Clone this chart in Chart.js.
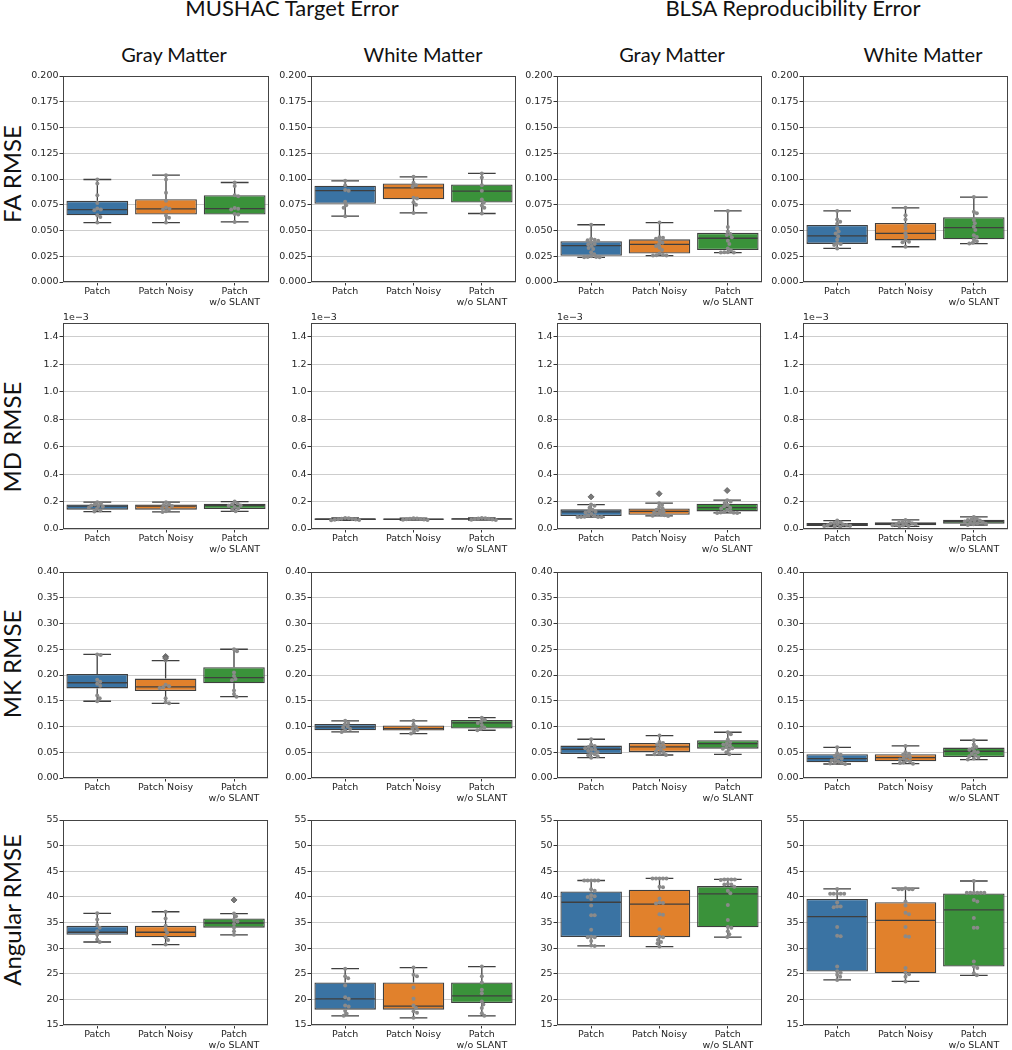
<!DOCTYPE html>
<html>
<head>
<meta charset="utf-8">
<script src="https://cdn.jsdelivr.net/npm/chart.js@4/dist/chart.umd.min.js"></script>
<style>
  body { margin: 0; background: #fff; }
  #page { position: relative; width: 1012px; height: 1050px; overflow: hidden; font-family: Lato, "Open Sans", sans-serif; color: #111; }
  .panel { position: absolute; }
  .txt { position: absolute; white-space: nowrap; line-height: 1; transform: translateX(-50%); }
  .rowlab { position: absolute; white-space: nowrap; line-height: 1; font-size: 24px; transform: translate(-50%, -50%) rotate(-90deg); }
</style>
</head>
<body>
<div id="page"></div>
<script>
// groups on the x axis of every panel
const GROUPS = ['Patch', 'Patch Noisy', ['Patch', 'w/o SLANT']];
const COLORS = ['#3a73a3', '#e1812c', '#3a923a'];

// y tick values per row
const FA_TICKS = [0, 0.025, 0.05, 0.075, 0.1, 0.125, 0.15, 0.175, 0.2];
const MD_TICKS = [0, 0.2, 0.4, 0.6, 0.8, 1.0, 1.2, 1.4];   // x1e-3
const MK_TICKS = [0, 0.05, 0.1, 0.15, 0.2, 0.25, 0.3, 0.35, 0.4];
const ANG_TICKS = [15, 20, 25, 30, 35, 40, 45, 50, 55];

// box stats per group: [whisker low, q1, median, q3, whisker high]
// FA RMSE
const FA_MUSHAC_GM_BOX = [[0.0577, 0.0648, 0.0703, 0.0788, 0.0995], [0.0577, 0.0655, 0.0709, 0.0804, 0.1037], [0.0583, 0.0655, 0.0712, 0.0843, 0.0966]];
const FA_MUSHAC_GM_PTS = [[0.0995, 0.0957, 0.0843, 0.0768, 0.0714, 0.0704, 0.0697, 0.0649, 0.0632, 0.0577], [0.1037, 0.0995, 0.0866, 0.0788, 0.0722, 0.0712, 0.0705, 0.0645, 0.0625, 0.0577], [0.0966, 0.0931, 0.0843, 0.0833, 0.0718, 0.0712, 0.0705, 0.066, 0.0655, 0.0583]];
const FA_MUSHAC_WM_BOX = [[0.0639, 0.0759, 0.0888, 0.0934, 0.0982], [0.0671, 0.0804, 0.0914, 0.0957, 0.1021], [0.0665, 0.0772, 0.0882, 0.0947, 0.1054]];
const FA_MUSHAC_WM_PTS = [[0.0982, 0.094, 0.0893, 0.0887, 0.0778, 0.0746, 0.072, 0.0639], [0.1021, 0.0963, 0.094, 0.0925, 0.0817, 0.081, 0.0775, 0.075, 0.0671], [0.1054, 0.1015, 0.094, 0.0885, 0.0801, 0.0772, 0.0743, 0.072, 0.0665]];
const FA_BLSA_GM_BOX = [[0.024, 0.0255, 0.0354, 0.0396, 0.0556], [0.0257, 0.0276, 0.0365, 0.0414, 0.0577], [0.0286, 0.031, 0.0425, 0.0477, 0.069]];
const FA_BLSA_GM_PTS = [[0.0556, 0.042, 0.041, 0.0405, 0.04, 0.0385, 0.037, 0.0365, 0.035, 0.033, 0.032, 0.029, 0.027, 0.025, 0.0242, 0.0242, 0.024, 0.024], [0.0577, 0.0435, 0.043, 0.042, 0.04, 0.038, 0.0366, 0.035, 0.0333, 0.031, 0.0276, 0.026, 0.0257, 0.0257, 0.0262], [0.069, 0.0534, 0.049, 0.0466, 0.0456, 0.0435, 0.04, 0.037, 0.0325, 0.0308, 0.0286, 0.0286, 0.0288, 0.0288]];
const FA_BLSA_WM_BOX = [[0.0326, 0.037, 0.0447, 0.0553, 0.069], [0.0342, 0.0404, 0.0473, 0.0574, 0.072], [0.0373, 0.0414, 0.0527, 0.0628, 0.0825]];
const FA_BLSA_WM_PTS = [[0.069, 0.0606, 0.0584, 0.0565, 0.052, 0.049, 0.047, 0.0445, 0.041, 0.0376, 0.037, 0.036, 0.0326], [0.072, 0.0648, 0.0606, 0.0554, 0.052, 0.0473, 0.044, 0.0405, 0.039, 0.0387, 0.0342], [0.0825, 0.0683, 0.0667, 0.0602, 0.057, 0.0536, 0.0505, 0.0453, 0.0436, 0.0412, 0.0396, 0.038, 0.0373]];

// MD RMSE (x1e-3)
const MD_MUSHAC_GM_BOX = [[0.127, 0.141, 0.166, 0.178, 0.195], [0.124, 0.141, 0.166, 0.178, 0.195], [0.129, 0.146, 0.171, 0.183, 0.2]];
const MD_MUSHAC_GM_PTS = [[0.195, 0.185, 0.178, 0.172, 0.168, 0.163, 0.155, 0.145, 0.135, 0.127], [0.195, 0.18, 0.175, 0.168, 0.16, 0.152, 0.142, 0.13, 0.124], [0.2, 0.186, 0.18, 0.172, 0.17, 0.16, 0.15, 0.14, 0.129]];
const MD_MUSHAC_WM_BOX = [[0.063, 0.066, 0.071, 0.078, 0.08], [0.065, 0.067, 0.071, 0.077, 0.079], [0.065, 0.068, 0.074, 0.079, 0.081]];
const MD_MUSHAC_WM_PTS = [[0.08, 0.078, 0.075, 0.073, 0.071, 0.07, 0.068, 0.066, 0.063], [0.079, 0.077, 0.074, 0.072, 0.071, 0.069, 0.067, 0.065], [0.081, 0.079, 0.076, 0.074, 0.072, 0.07, 0.068, 0.065]];
const MD_BLSA_GM_BOX = [[0.087, 0.095, 0.124, 0.143, 0.178], [0.095, 0.103, 0.128, 0.15, 0.188], [0.117, 0.128, 0.156, 0.184, 0.21]];
const MD_BLSA_GM_PTS = [[0.178, 0.17, 0.155, 0.14, 0.13, 0.125, 0.12, 0.11, 0.1, 0.095, 0.09, 0.088, 0.087, 0.087, 0.087], [0.188, 0.175, 0.16, 0.15, 0.14, 0.13, 0.125, 0.12, 0.11, 0.105, 0.1, 0.097, 0.095], [0.21, 0.2, 0.19, 0.175, 0.165, 0.155, 0.15, 0.14, 0.13, 0.125, 0.12, 0.118, 0.117, 0.117]];
const MD_BLSA_GM_OUT = [[0.234], [0.257], [0.28]];
const MD_BLSA_WM_BOX = [[0.017, 0.022, 0.032, 0.044, 0.061], [0.019, 0.027, 0.039, 0.049, 0.066], [0.029, 0.039, 0.056, 0.068, 0.088]];
const MD_BLSA_WM_PTS = [[0.061, 0.05, 0.045, 0.04, 0.036, 0.033, 0.03, 0.027, 0.024, 0.022, 0.02, 0.017], [0.066, 0.055, 0.05, 0.046, 0.042, 0.039, 0.035, 0.031, 0.028, 0.025, 0.022, 0.019], [0.088, 0.075, 0.07, 0.066, 0.062, 0.058, 0.054, 0.05, 0.046, 0.042, 0.038, 0.034, 0.029]];

// MK RMSE
const MK_MUSHAC_GM_BOX = [[0.149, 0.174, 0.185, 0.202, 0.24], [0.145, 0.169, 0.177, 0.193, 0.228], [0.158, 0.184, 0.195, 0.215, 0.25]];
const MK_MUSHAC_GM_PTS = [[0.24, 0.239, 0.191, 0.187, 0.183, 0.179, 0.16, 0.155, 0.149], [0.228, 0.181, 0.178, 0.176, 0.175, 0.155, 0.147, 0.145], [0.25, 0.246, 0.205, 0.198, 0.192, 0.19, 0.17, 0.163, 0.158]];
const MK_MUSHAC_GM_OUT = [[], [0.236, 0.233], []];
const MK_MUSHAC_WM_BOX = [[0.0895, 0.0927, 0.0992, 0.105, 0.1109], [0.0862, 0.092, 0.0959, 0.1018, 0.1109], [0.0927, 0.0959, 0.107, 0.1128, 0.1173]];
const MK_MUSHAC_WM_PTS = [[0.111, 0.107, 0.104, 0.1, 0.098, 0.095, 0.092, 0.0895], [0.111, 0.104, 0.099, 0.096, 0.093, 0.09, 0.0862], [0.117, 0.113, 0.11, 0.107, 0.103, 0.098, 0.095, 0.0927]];
const MK_BLSA_GM_BOX = [[0.0395, 0.0467, 0.0558, 0.0629, 0.0752], [0.0447, 0.0506, 0.0603, 0.0681, 0.0823], [0.046, 0.057, 0.0668, 0.0733, 0.0888]];
const MK_BLSA_GM_PTS = [[0.0752, 0.065, 0.062, 0.06, 0.058, 0.056, 0.055, 0.053, 0.05, 0.048, 0.046, 0.044, 0.042, 0.0395], [0.0823, 0.07, 0.068, 0.065, 0.062, 0.06, 0.058, 0.055, 0.052, 0.05, 0.048, 0.046, 0.0447], [0.0888, 0.085, 0.075, 0.07, 0.067, 0.065, 0.063, 0.06, 0.058, 0.057, 0.055, 0.05, 0.046]];
const MK_BLSA_WM_BOX = [[0.0272, 0.0305, 0.0376, 0.046, 0.0596], [0.0279, 0.0324, 0.0395, 0.046, 0.0622], [0.0357, 0.0408, 0.0519, 0.059, 0.0733]];
const MK_BLSA_WM_PTS = [[0.0596, 0.048, 0.045, 0.043, 0.04, 0.038, 0.036, 0.034, 0.032, 0.03, 0.029, 0.028, 0.0272], [0.0622, 0.05, 0.047, 0.045, 0.042, 0.04, 0.038, 0.036, 0.034, 0.032, 0.03, 0.029, 0.0279], [0.0733, 0.065, 0.06, 0.058, 0.055, 0.052, 0.05, 0.047, 0.044, 0.042, 0.04, 0.038, 0.0357]];

// Angular RMSE
const ANG_MUSHAC_GM_BOX = [[31.2, 32.6, 33.1, 34.35, 36.8], [30.7, 32.1, 33.1, 34.35, 37.1], [32.6, 34.0, 34.9, 35.8, 36.75]];
const ANG_MUSHAC_GM_PTS = [[36.8, 35.6, 34.5, 34.0, 33.3, 32.6, 31.7, 31.2], [37.1, 35.8, 34.35, 33.6, 33.0, 32.1, 31.6, 30.7], [36.75, 36.2, 35.5, 35.2, 34.7, 34.0, 33.3, 32.6]];
const ANG_MUSHAC_GM_OUT = [[], [], [39.4]];
const ANG_MUSHAC_WM_BOX = [[16.8, 18.0, 20.1, 23.3, 26.0], [16.4, 18.0, 18.7, 23.3, 26.2], [16.8, 19.3, 20.7, 23.3, 26.4]];
const ANG_MUSHAC_WM_PTS = [[26.0, 24.5, 24.1, 22.7, 20.4, 20.1, 18.8, 18.6, 17.8, 17.2, 16.8], [26.2, 24.8, 24.5, 22.3, 20.1, 18.8, 18.3, 17.7, 17.4, 16.4], [26.4, 24.5, 23.3, 21.9, 21.2, 19.6, 19.0, 18.3, 17.3, 16.8]];
const ANG_BLSA_GM_BOX = [[30.45, 32.15, 38.95, 41.05, 43.2], [30.3, 32.1, 38.6, 41.4, 43.6], [32.15, 34.05, 40.6, 42.1, 43.4]];
const ANG_BLSA_GM_PTS = [[43.2, 43.2, 43.2, 43.2, 43.2, 41.5, 41.2, 40.3, 40.1, 40.0, 39.6, 38.3, 36.4, 36.4, 33.6, 32.2, 32.1, 32.1, 31.4, 30.5, 30.4], [43.6, 43.6, 43.6, 43.6, 43.6, 42.0, 41.9, 39.7, 38.9, 38.8, 38.7, 36.6, 36.5, 33.7, 32.2, 32.1, 31.6, 31.2, 30.9, 30.3], [43.4, 43.4, 43.4, 43.4, 43.3, 42.5, 42.4, 42.4, 42.0, 41.2, 40.7, 38.4, 35.5, 34.1, 34.0, 33.3, 32.7, 32.15]];
const ANG_BLSA_WM_BOX = [[23.8, 25.45, 36.15, 39.6, 41.55], [23.5, 25.1, 35.4, 38.95, 41.7], [24.7, 26.4, 37.45, 40.65, 43.1]];
const ANG_BLSA_WM_PTS = [[41.55, 40.6, 40.6, 40.6, 40.6, 40.6, 38.9, 38.1, 38.1, 38.0, 34.1, 32.4, 32.3, 26.4, 25.5, 25.2, 24.8, 24.4, 23.8], [41.7, 41.5, 41.5, 41.5, 41.5, 39.1, 38.3, 36.9, 36.6, 34.1, 32.3, 32.2, 26.1, 25.2, 24.9, 24.4, 23.5], [43.1, 40.8, 40.8, 40.8, 40.8, 40.8, 40.8, 39.4, 39.1, 35.9, 34.0, 34.0, 27.4, 26.4, 26.1, 25.1, 24.7]];

const NO_OUT = [[], [], []];

// rows: metric label, y range, ticks, decimals
const ROWS = [
  { label: 'FA RMSE', min: 0, max: 0.2, ticks: FA_TICKS, dec: 3 },
  { label: 'MD RMSE', min: 0, max: 1.5, ticks: MD_TICKS, dec: 1, offsetText: '1e\u22123' },
  { label: 'MK RMSE', min: 0, max: 0.4, ticks: MK_TICKS, dec: 2 },
  { label: 'Angular RMSE', min: 15, max: 55, ticks: ANG_TICKS, dec: 0 }
];

const PANELS = [
  [FA_MUSHAC_GM_BOX, FA_MUSHAC_GM_PTS, NO_OUT], [FA_MUSHAC_WM_BOX, FA_MUSHAC_WM_PTS, NO_OUT],
  [FA_BLSA_GM_BOX, FA_BLSA_GM_PTS, NO_OUT], [FA_BLSA_WM_BOX, FA_BLSA_WM_PTS, NO_OUT],
  [MD_MUSHAC_GM_BOX, MD_MUSHAC_GM_PTS, NO_OUT], [MD_MUSHAC_WM_BOX, MD_MUSHAC_WM_PTS, NO_OUT],
  [MD_BLSA_GM_BOX, MD_BLSA_GM_PTS, MD_BLSA_GM_OUT], [MD_BLSA_WM_BOX, MD_BLSA_WM_PTS, NO_OUT],
  [MK_MUSHAC_GM_BOX, MK_MUSHAC_GM_PTS, MK_MUSHAC_GM_OUT], [MK_MUSHAC_WM_BOX, MK_MUSHAC_WM_PTS, NO_OUT],
  [MK_BLSA_GM_BOX, MK_BLSA_GM_PTS, NO_OUT], [MK_BLSA_WM_BOX, MK_BLSA_WM_PTS, NO_OUT],
  [ANG_MUSHAC_GM_BOX, ANG_MUSHAC_GM_PTS, ANG_MUSHAC_GM_OUT], [ANG_MUSHAC_WM_BOX, ANG_MUSHAC_WM_PTS, NO_OUT],
  [ANG_BLSA_GM_BOX, ANG_BLSA_GM_PTS, NO_OUT], [ANG_BLSA_WM_BOX, ANG_BLSA_WM_PTS, NO_OUT]
];

// layout of the grid (plot areas)
const COL_LEFT = [63, 311, 557, 803];
const COL_W = [208, 207, 207, 207];
const ROW_TOP = [76, 323, 572, 820];
const ROW_H = [206, 206, 206, 205];
const AXIS_W = 50, PAD_TOP = 14, PAD_R = 2, X_AXIS_H = 34;

const EDGE = '#3f3f3f';
const TICK_FONT = { family: 'DejaVu Sans', size: 9.5 };
const CAP_FRAC = 0.45;
const SWARM_GAP = 3.4;

const page = document.getElementById('page');

function addText(txt, cls, css) {
  const d = document.createElement('div');
  d.className = cls;
  d.textContent = txt;
  Object.assign(d.style, css);
  page.appendChild(d);
}

addText('MUSHAC Target Error', 'txt', { left: '292px', top: '-3px', fontSize: '22px' });
addText('BLSA Reproducibility Error', 'txt', { left: '793px', top: '-3px', fontSize: '22px' });
['Gray Matter', 'White Matter', 'Gray Matter', 'White Matter'].forEach((t, i) => {
  addText(t, 'txt', { left: [174, 423, 672, 923][i] + 'px', top: '44px', fontSize: '20px' });
});
ROWS.forEach((r, i) => {
  addText(r.label, 'rowlab', { left: '12px', top: [174, 437, 664, 910][i] + 'px' });
});

// whiskers, caps and median lines, drawn right after the boxes
const boxPlugin = {
  id: 'boxWhisk',
  afterDatasetDraw(chart, args, opts) {
    if (args.index !== 0) return;
    const ctx = chart.ctx, y = chart.scales.y;
    const py = v => y.getPixelForValue(v);
    ctx.save();
    ctx.strokeStyle = EDGE;
    ctx.lineWidth = 1.3;
    args.meta.data.forEach((bar, i) => {
      const s = opts.stats[i];
      const cx = bar.x, hw = bar.width / 2, cw = bar.width * CAP_FRAC / 2;
      ctx.beginPath();
      ctx.moveTo(cx, py(s[3])); ctx.lineTo(cx, py(s[4]));
      ctx.moveTo(cx, py(s[1])); ctx.lineTo(cx, py(s[0]));
      ctx.moveTo(cx - cw, py(s[4])); ctx.lineTo(cx + cw, py(s[4]));
      ctx.moveTo(cx - cw, py(s[0])); ctx.lineTo(cx + cw, py(s[0]));
      ctx.moveTo(cx - hw + 1, py(s[2])); ctx.lineTo(cx + hw - 1, py(s[2]));
      ctx.stroke();
    });
    ctx.restore();
  }
};

// spread strip points sideways so they do not overlap (beeswarm)
const swarmPlugin = {
  id: 'swarm',
  beforeDatasetsDraw(chart) {
    const xs = chart.scales.xj;
    chart.data.datasets.forEach((ds, i) => {
      if (!ds.swarm) return;
      const meta = chart.getDatasetMeta(i);
      const byGroup = {};
      meta.data.forEach((el, j) => {
        const g = ds.data[j].x;
        (byGroup[g] = byGroup[g] || []).push(el);
      });
      Object.keys(byGroup).forEach(g => {
        const cx = xs.getPixelForValue(+g);
        const placed = [];
        byGroup[g].sort((a, b) => a.y - b.y).forEach(el => {
          let off = 0;
          for (let k = 0; k < 200; k++) {
            off = (k % 2 ? 1 : -1) * Math.ceil(k / 2) * 0.5;
            const ok = placed.every(p => Math.hypot(p.x - (cx + off), p.y - el.y) >= SWARM_GAP);
            if (ok) break;
          }
          el.x = cx + off;
          placed.push({ x: el.x, y: el.y });
        });
      });
    });
  }
};

// full frame around the plot area and the offset text
const framePlugin = {
  id: 'frame',
  afterDraw(chart, args, opts) {
    const { ctx, chartArea: a } = chart;
    ctx.save();
    ctx.strokeStyle = '#444';
    ctx.lineWidth = 1;
    ctx.strokeRect(Math.round(a.left) + 0.5, Math.round(a.top) + 0.5, Math.round(a.right - a.left) - 1, Math.round(a.bottom - a.top) - 1);
    if (opts.offsetText) {
      ctx.fillStyle = '#262626';
      ctx.font = '9.5px "DejaVu Sans"';
      ctx.textBaseline = 'bottom';
      ctx.fillText(opts.offsetText, a.left, a.top - 1);
    }
    ctx.restore();
  }
};

function makePanel(idx) {
  const rowI = Math.floor(idx / 4), colI = idx % 4;
  const row = ROWS[rowI];
  const [box, pts, out] = PANELS[idx];

  const w = AXIS_W + COL_W[colI] + PAD_R;
  const h = PAD_TOP + ROW_H[rowI] + X_AXIS_H;
  const wrap = document.createElement('div');
  wrap.className = 'panel';
  Object.assign(wrap.style, {
    left: (COL_LEFT[colI] - AXIS_W) + 'px', top: (ROW_TOP[rowI] - PAD_TOP) + 'px',
    width: w + 'px', height: h + 'px'
  });
  const canvas = document.createElement('canvas');
  canvas.width = w; canvas.height = h;
  canvas.style.width = w + 'px'; canvas.style.height = h + 'px';
  wrap.appendChild(canvas);
  page.appendChild(wrap);

  const stripData = [];
  pts.forEach((arr, g) => arr.forEach(v => stripData.push({ x: g, y: v })));
  const outData = [];
  out.forEach((arr, g) => arr.forEach(v => outData.push({ x: g, y: v })));

  new Chart(canvas, {
    type: 'bar',
    data: {
      labels: GROUPS,
      datasets: [
        {
          type: 'bar',
          data: box.map(b => [b[1], b[3]]),
          backgroundColor: COLORS,
          borderColor: EDGE,
          borderWidth: 1.3,
          borderSkipped: false,
          grouped: false,
          barPercentage: 0.9,
          categoryPercentage: 1,
          order: 2
        },
        {
          type: 'scatter',
          xAxisID: 'xj',
          swarm: true,
          data: stripData,
          pointRadius: 2,
          pointBackgroundColor: '#8a8a8a',
          pointBorderWidth: 0,
          order: 1
        },
        {
          type: 'scatter',
          xAxisID: 'xj',
          data: outData,
          pointStyle: 'rectRot',
          pointRadius: 3,
          pointBackgroundColor: '#7a7a7a',
          pointBorderColor: '#5a5a5a',
          pointBorderWidth: 0.8,
          order: 0
        }
      ]
    },
    options: {
      responsive: false,
      animation: false,
      events: [],
      devicePixelRatio: 1,
      layout: { padding: { top: PAD_TOP, right: PAD_R, left: 0, bottom: 0 } },
      plugins: {
        legend: { display: false },
        tooltip: { enabled: false },
        boxWhisk: { stats: box },
        frame: { offsetText: row.offsetText }
      },
      scales: {
        x: {
          type: 'category',
          offset: true,
          border: { display: false },
          grid: { display: true, drawOnChartArea: false, drawTicks: true, tickLength: 3.5, tickColor: '#333', offset: false },
          ticks: { color: '#262626', font: TICK_FONT, padding: 0, maxRotation: 0, autoSkip: false },
          afterFit: s => { s.height = X_AXIS_H; }
        },
        xj: { type: 'linear', display: false, offset: false, grace: 0, min: -0.5, max: 2.5 },
        y: {
          type: 'linear',
          min: row.min,
          max: row.max,
          border: { display: false },
          grid: { color: '#cdcdcd', lineWidth: 1, tickLength: 3.5, tickColor: '#333' },
          ticks: { color: '#262626', font: TICK_FONT, padding: 1, callback: v => v.toFixed(row.dec) },
          afterBuildTicks: s => { s.ticks = row.ticks.map(v => ({ value: v })); },
          afterFit: s => { s.width = AXIS_W; }
        }
      }
    },
    plugins: [boxPlugin, swarmPlugin, framePlugin]
  });
}

for (let i = 0; i < 16; i++) makePanel(i);
</script>
</body>
</html>
